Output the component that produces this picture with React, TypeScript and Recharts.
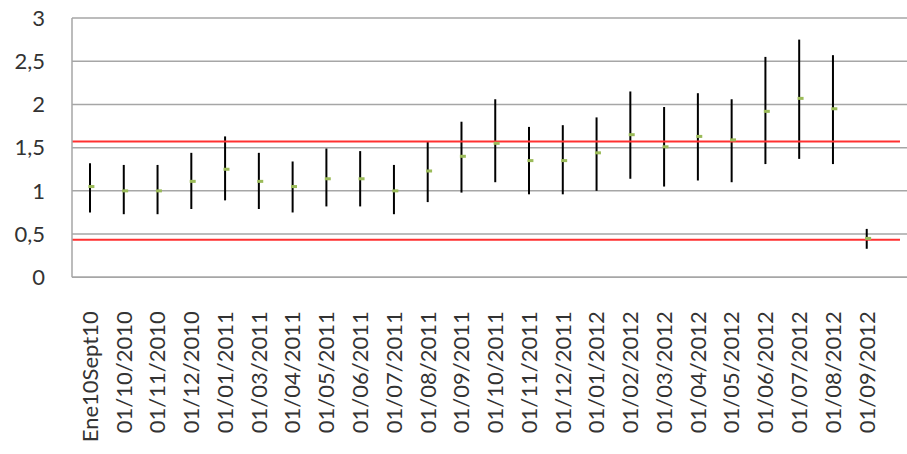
import React from 'react';
import { ComposedChart, Bar, Line, XAxis, YAxis, CartesianGrid, ReferenceLine } from 'recharts';

const fechas = [
  'Ene10Sept10', '01/10/2010', '01/11/2010', '01/12/2010', '01/01/2011', '01/03/2011',
  '01/04/2011', '01/05/2011', '01/06/2011', '01/07/2011', '01/08/2011', '01/09/2011',
  '01/10/2011', '01/11/2011', '01/12/2011', '01/01/2012', '01/02/2012', '01/03/2012',
  '01/04/2012', '01/05/2012', '01/06/2012', '01/07/2012', '01/08/2012', '01/09/2012',
];
const maximos = [1.32, 1.3, 1.3, 1.44, 1.63, 1.44, 1.34, 1.49, 1.46, 1.3, 1.57, 1.8, 2.06, 1.74, 1.76, 1.85, 2.15, 1.97, 2.13, 2.06, 2.55, 2.75, 2.57, 0.56];
const minimos = [0.75, 0.73, 0.73, 0.79, 0.89, 0.79, 0.75, 0.82, 0.82, 0.73, 0.87, 0.98, 1.1, 0.96, 0.96, 1.0, 1.14, 1.05, 1.12, 1.1, 1.31, 1.37, 1.31, 0.33];
const medias = [1.05, 1.0, 1.0, 1.11, 1.25, 1.11, 1.05, 1.14, 1.14, 1.0, 1.23, 1.4, 1.55, 1.35, 1.35, 1.44, 1.65, 1.51, 1.63, 1.59, 1.92, 2.07, 1.95, 0.45];
const limiteSuperior = 1.57;
const limiteInferior = 0.435;
const yTicks = [0, 0.5, 1, 1.5, 2, 2.5, 3];

const data = fechas.map((f, i) => ({ fecha: f, rango: [minimos[i], maximos[i]], media: medias[i] }));

const FONT = 'Lato, "Open Sans", sans-serif';
const GRIS = '#A6A6A6';
const ROJO = '#FF3030';

const FechaTick = (props: any) => {
  const { x, y, payload } = props;
  return (
    <g transform={`translate(${x},${y})`}>
      <text
        x={-26}
        y={0}
        dy="0.36em"
        transform="rotate(-90)"
        textAnchor="end"
        fontFamily={FONT}
        fontSize={22}
        fill="#333"
      >
        {payload.value}
      </text>
    </g>
  );
};

const MediaDot = (props: any) => {
  const { cx, cy, index } = props;
  if (cx == null || cy == null) return null;
  return <rect key={index} x={cx - 1.5} y={cy - 1.5} width={6} height={3} fill="#9BBB59" />;
};

const lineaRoja = (p: any) => (
  <line x1={p.x1} y1={p.y1} x2={p.x2 - 7} y2={p.y2} stroke={ROJO} strokeWidth={2} />
);

export default function App() {
  return (
    <div style={{ position: 'absolute', left: 0, top: 0, background: '#fff' }}>
      <ComposedChart width={907} height={454} data={data} margin={{ top: 18, right: 0, left: 0, bottom: 0 }}>
        <CartesianGrid vertical={false} stroke={GRIS} strokeWidth={1.5} />
        <XAxis
          dataKey="fecha"
          interval={0}
          height={176.7}
          padding={{ left: 1, right: 23.5 }}
          tickLine={false}
          axisLine={{ stroke: GRIS, strokeWidth: 1.5 }}
          tick={<FechaTick />}
        />
        <YAxis
          domain={[0, 3]}
          ticks={yTicks}
          width={72}
          tickSize={0}
          tickMargin={27}
          tickLine={false}
          axisLine={{ stroke: GRIS, strokeWidth: 1.5 }}
          tickFormatter={(v: number) => String(v).replace('.', ',')}
          tick={{ fontFamily: FONT, fontSize: 22, fill: '#333' }}
        />
        <ReferenceLine y={limiteSuperior} shape={lineaRoja} />
        <ReferenceLine y={limiteInferior} shape={lineaRoja} />
        <Bar dataKey="rango" barSize={2} fill="#000" isAnimationActive={false} />
        <Line
          dataKey="media"
          stroke="none"
          dot={<MediaDot />}
          activeDot={false}
          isAnimationActive={false}
        />
      </ComposedChart>
    </div>
  );
}
